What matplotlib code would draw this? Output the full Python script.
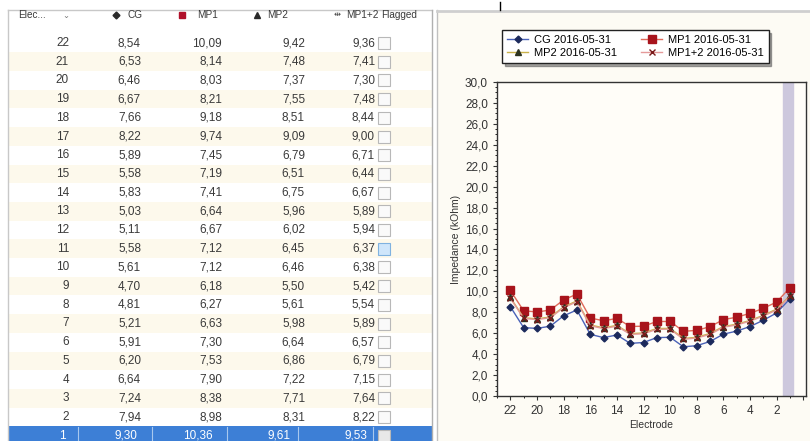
import numpy as np
import matplotlib.pyplot as plt
from matplotlib.patches import Rectangle
from matplotlib.ticker import MultipleLocator, FuncFormatter

plt.rcParams['font.family'] = ['Liberation Sans', 'DejaVu Sans']

electrodes = list(range(22, 0, -1))
cg = [8.54, 6.53, 6.46, 6.67, 7.66, 8.22, 5.89, 5.58, 5.83, 5.03, 5.11,
      5.58, 5.61, 4.70, 4.81, 5.21, 5.91, 6.20, 6.64, 7.24, 7.94, 9.30]
mp1 = [10.09, 8.14, 8.03, 8.21, 9.18, 9.74, 7.45, 7.19, 7.41, 6.64, 6.67,
       7.12, 7.12, 6.18, 6.27, 6.63, 7.30, 7.53, 7.90, 8.38, 8.98, 10.36]
mp2 = [9.42, 7.48, 7.37, 7.55, 8.51, 9.09, 6.79, 6.51, 6.75, 5.96, 6.02,
       6.45, 6.46, 5.50, 5.61, 5.98, 6.64, 6.86, 7.22, 7.71, 8.31, 9.61]
mp12 = [9.36, 7.41, 7.30, 7.48, 8.44, 9.00, 6.71, 6.44, 6.67, 5.89, 5.94,
        6.37, 6.38, 5.42, 5.54, 5.89, 6.57, 6.79, 7.15, 7.64, 8.22, 9.53]
headers = ['CG', 'MP1', 'MP2', 'MP1+2']
date = '2016-05-31'

W, H = 810, 441
fig = plt.figure(figsize=(W / 100, H / 100), dpi=100)
fig.patch.set_facecolor('white')

# background axes in pixel units for the table and panels
bg = fig.add_axes([0, 0, 1, 1])
bg.set_xlim(0, W)
bg.set_ylim(H, 0)
bg.axis('off')

txt = '#3a3a3a'
fs = 8.5
hfs = 7.2
row_h = 18.7
y0 = 43

def fmt(v):
    return ('%.2f' % v).replace('.', ',')

# rows
for i, e in enumerate(electrodes):
    yc = y0 + i * row_h
    sel = (e == 1)
    if sel:
        face = '#3d7fd6'
    elif i % 2 == 1:
        face = '#fdf9ec'
    else:
        face = 'white'
    bg.add_patch(Rectangle((8, yc - row_h / 2), 424, row_h, facecolor=face, edgecolor='none'))
    col = 'white' if sel else txt
    xs = [137, 213, 291, 367] if sel else [141, 222, 305, 375]
    bg.text(66 if sel else 69, yc, str(e), ha='right', va='center', fontsize=fs, color=col)
    for x, vals in zip(xs, [cg, mp1, mp2, mp12]):
        bg.text(x, yc, fmt(vals[i]), ha='right', va='center', fontsize=fs, color=col)
    cb_face = '#cfe6fb' if e == 11 else ('#e8e8e8' if sel else '#fafafa')
    cb_edge = '#7fb2e0' if e == 11 else '#b8b8b8'
    bg.add_patch(Rectangle((378, yc - 6), 12, 12, facecolor=cb_face, edgecolor=cb_edge, lw=0.8))
    if sel:
        for x in [78, 152, 227, 298, 373]:
            bg.plot([x, x], [yc - row_h / 2 + 1, yc + row_h / 2], color='#a9c8ee', lw=0.8)

# header
bg.add_patch(Rectangle((8, 10), 424, 23, facecolor='white', edgecolor='none'))
bg.plot([8, 432], [10, 10], color='#c8c8c8', lw=1)
bg.plot([8, 8], [10, H], color='#c8c8c8', lw=1)
bg.plot([432, 432], [10, H], color='#b0b0b0', lw=1)
bg.plot([437, 437], [10, H], color='#c0c0c0', lw=1)
hy = 15
bg.text(18, hy, 'Elec...', ha='left', va='center', fontsize=hfs, color=txt)
bg.text(62, hy, '\u2304', ha='left', va='center', fontsize=6, color='#777777',
        family='DejaVu Sans')
bg.plot([116], [hy], marker='D', ms=3.5, color='#2a2a2a', ls='none')
bg.text(128, hy, 'CG', ha='left', va='center', fontsize=hfs, color=txt)
bg.plot([182], [hy], marker='s', ms=5, color='#b0102a', ls='none')
bg.text(197, hy, 'MP1', ha='left', va='center', fontsize=hfs, color=txt)
bg.plot([257], [hy], marker='^', ms=4, color='#2a2a2a', ls='none')
bg.text(267, hy, 'MP2', ha='left', va='center', fontsize=hfs, color=txt)
bg.text(337, hy, '\u21f9', ha='center', va='center', fontsize=6, color='#444444',
        family='DejaVu Sans')
bg.text(346, hy, 'MP1+2', ha='left', va='center', fontsize=hfs, color=txt)
bg.text(381, hy, 'Flagged', ha='left', va='center', fontsize=hfs, color=txt)

# right panel background
bg.add_patch(Rectangle((438, 12), W - 438, H - 12, facecolor='#fdfbf4', edgecolor='none'))
bg.plot([437, W], [11, 11], color='#cfcfcf', lw=2)
bg.plot([500, 500], [2, 10], color='black', lw=1)

# chart
ax = fig.add_axes([497 / W, 1 - 396 / H, 309 / W, 314 / H])
ax.set_facecolor('#fffdf8')
ax.axvspan(0.8, 1.5, color='#cdc8dd', zorder=0)

series = [
    (cg, 'CG', '#4a62b8', 'D', '#1c2a5c', 3.5),
    (mp1, 'MP1', '#e06a5a', 's', '#a8141c', 5.5),
    (mp2, 'MP2', '#c9b24a', '^', '#2c3320', 4.5),
    (mp12, 'MP1+2', '#e59a9a', 'x', '#7a1a1a', 4.5),
]
handles = {}
for vals, name, lc, mk, mc, ms in series:
    h, = ax.plot(electrodes, vals, color=lc, lw=1, marker=mk, ms=ms,
                 markerfacecolor=mc, markeredgecolor=mc, mew=1,
                 label='%s %s' % (name, date))
    handles[name] = h

ax.set_xlim(23.0, -0.2)
ax.set_ylim(0, 30)
ax.xaxis.set_major_locator(MultipleLocator(2))
ax.xaxis.set_minor_locator(MultipleLocator(1))
ax.yaxis.set_major_locator(MultipleLocator(2))
ax.yaxis.set_minor_locator(MultipleLocator(0.5))
ax.yaxis.set_major_formatter(FuncFormatter(lambda v, p: ('%.1f' % v).replace('.', ',')))
ax.xaxis.set_major_formatter(FuncFormatter(lambda v, p: '%d' % v if v >= 1 else ''))
ax.tick_params(labelsize=8.5, colors='#333333', length=3, width=0.8)
ax.tick_params(which='minor', length=1.5, width=0.6)
for s in ax.spines.values():
    s.set_color('#333333')
    s.set_linewidth(1)
ax.set_xlabel('Electrode', fontsize=7.5, color='#333333', labelpad=2)
ax.set_ylabel('Impedance (kOhm)', fontsize=7.5, color='#333333', labelpad=3)

order = ['CG', 'MP2', 'MP1', 'MP1+2']
leg = ax.legend([handles[k] for k in order], [handles[k].get_label() for k in order],
                ncol=2, loc='upper left', bbox_to_anchor=(502 / W, 1 - 30 / H),
                bbox_transform=fig.transFigure, fontsize=8, frameon=True,
                fancybox=False, shadow=True, borderaxespad=0, handlelength=1.9,
                handletextpad=0.5, columnspacing=2.2, labelspacing=0.25,
                borderpad=0.45)
leg.get_frame().set_edgecolor('#222222')
leg.get_frame().set_linewidth(1)

fig.savefig('out.png', dpi=100)
